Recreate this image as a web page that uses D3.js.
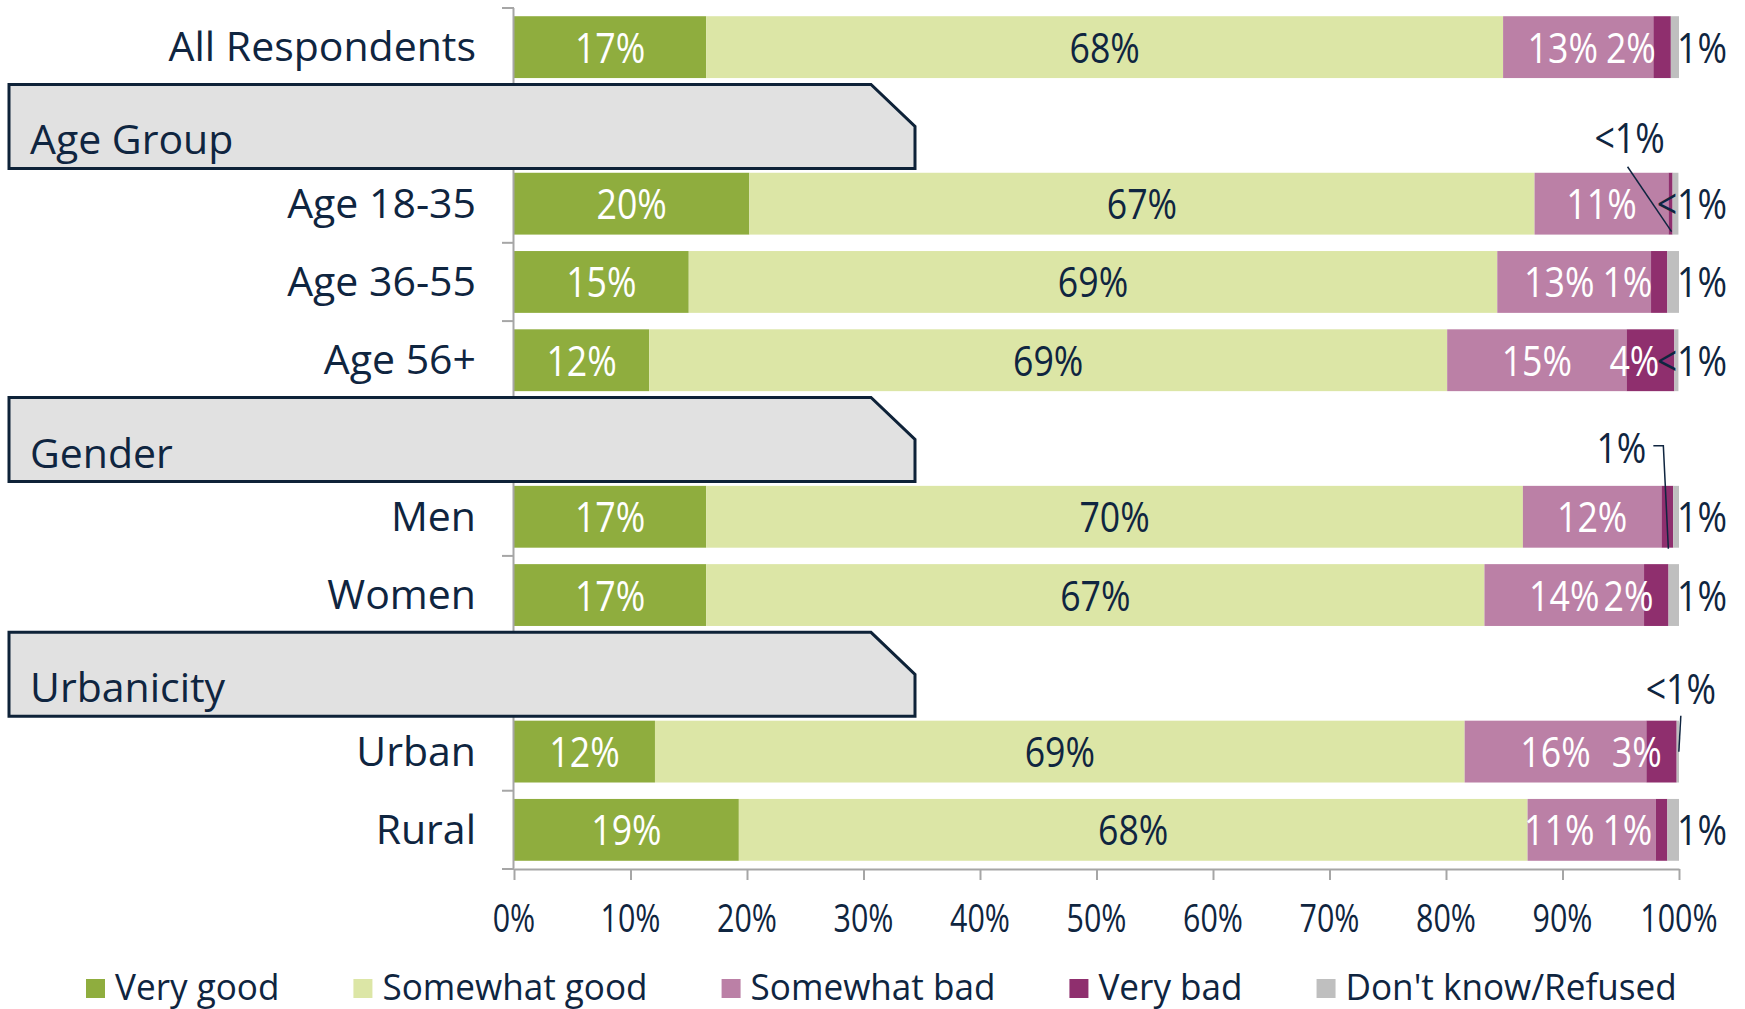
<!DOCTYPE html>
<html><head><meta charset="utf-8">
<script src="https://cdn.jsdelivr.net/npm/d3@7"></script>
<style>
body{margin:0;background:#fff;}
svg{display:block;font-family:'Open Sans',sans-serif;}
</style>
</head><body>
<svg id="c" width="1745" height="1009"></svg>
<script>
// ---------- DATA ----------
const slots = ["All Respondents","Age Group","Age 18-35","Age 36-55","Age 56+","Gender","Men","Women","Urbanicity","Urban","Rural"];
const headers = ["Age Group","Gender","Urbanicity"];
const rows = ["All Respondents","Age 18-35","Age 36-55","Age 56+","Men","Women","Urban","Rural"];
const seriesNames = ["Very good","Somewhat good","Somewhat bad","Very bad","Don't know/Refused"];
const veryGood     = [16.5, 20.2, 15.0, 11.6, 16.5, 16.5, 12.1, 19.3];
const somewhatGood = [68.4, 67.4, 69.4, 68.5, 70.1, 66.8, 69.5, 67.7];
const somewhatBad  = [12.9, 11.5, 13.2, 15.4, 11.9, 13.7, 15.6, 11.0];
const veryBad      = [1.5, 0.35, 1.4, 4.1, 1.0, 2.1, 2.6, 1.0];
const dontKnow     = [0.7, 0.5, 1.0, 0.35, 0.5, 0.9, 0.2, 1.0];
const veryGoodLabels     = ["17%","20%","15%","12%","17%","17%","12%","19%"];
const somewhatGoodLabels = ["68%","67%","69%","69%","70%","67%","69%","68%"];
const somewhatBadLabels  = ["13%","11%","13%","15%","12%","14%","16%","11%"];
const veryBadLabels      = ["2%","<1%","1%","4%","1%","2%","3%","1%"];
const dontKnowLabels     = ["1%","<1%","1%","<1%","1%","1%","<1%","1%"];
const xTicks = [0,10,20,30,40,50,60,70,80,90,100];
const colors = ["#8fad3e","#dce6a6","#bb80a6","#8f2f6e","#bfbfbf"];

// ---------- SETUP ----------
const NAVY = "#0f2540";
const GRID = "#a6a6a6";
const svg = d3.select("#c");
const x = d3.scaleLinear().domain([0,100]).range([514,1679]);
const y = d3.scaleBand().domain(slots).range([8,869]).paddingInner(0.21).paddingOuter(0.105);
const bw = y.bandwidth();
const step = y.step();

const keys = ["vg","sg","sb","vb","dk"];
const labelSets = [veryGoodLabels, somewhatGoodLabels, somewhatBadLabels, veryBadLabels, dontKnowLabels];
const table = rows.map((r,i)=>({row:r, vg:veryGood[i], sg:somewhatGood[i], sb:somewhatBad[i], vb:veryBad[i], dk:dontKnow[i]}));
const stacked = d3.stack().keys(keys)(table);

function sText(g, px, py, str, o){
  return g.append("text")
    .attr("transform", `translate(${px},${py}) scale(${o.sx||1},1)`)
    .attr("text-anchor", o.anchor||"middle")
    .attr("font-size", o.size)
    .attr("fill", o.fill||NAVY)
    .text(str);
}

// ---------- BARS ----------
const gBars = svg.append("g");
stacked.forEach((layer,k)=>{
  gBars.selectAll(null).data(layer).enter().append("rect")
    .attr("x", d=>x(d[0]))
    .attr("y", d=>y(d.data.row))
    .attr("width", d=>Math.max(0, x(d[1])-x(d[0])))
    .attr("height", bw)
    .attr("fill", colors[k]);
});

// ---------- AXES ----------
const gAxis = svg.append("g");
gAxis.append("line").attr("x1",x(0)-0.5).attr("x2",x(0)-0.5).attr("y1",y.range()[0]).attr("y2",y.range()[1])
  .attr("stroke",GRID).attr("stroke-width",2);
d3.range(slots.length+1).forEach(i=>{
  const yy = y.range()[0] + i*step;
  gAxis.append("line").attr("x1",x(0)-12).attr("x2",x(0)).attr("y1",yy).attr("y2",yy)
    .attr("stroke",GRID).attr("stroke-width",2);
});
const xAxis = d3.axisBottom(x).tickValues(xTicks).tickSize(11).tickSizeOuter(0).tickFormat(d=>d+"%");
const gx = svg.append("g").attr("transform",`translate(0,${y.range()[1]})`).call(xAxis);
gx.select(".domain").attr("stroke",GRID).attr("stroke-width",2);
gx.selectAll(".tick line").attr("stroke",GRID).attr("stroke-width",2);
gx.selectAll(".tick text").remove();
xTicks.forEach(t=>{
  sText(svg, x(t), y.range()[1]+63, t+"%", {size:38, sx:0.8});
});

const yAxis = d3.axisLeft(y).tickSize(0).tickPadding(38).tickFormat(d=>headers.includes(d)?"":d);
const gy = svg.append("g").attr("transform",`translate(${x(0)},0)`).call(yAxis);
gy.select(".domain").remove();
gy.selectAll(".tick text").attr("font-size",41).attr("fill",NAVY).attr("font-family","'Open Sans',sans-serif").attr("dy","0.34em");

// ---------- DATA LABELS ----------
const gLab = svg.append("g");
const callouts = [
  {key:"vb", row:"Age 18-35", style:"diag"},
  {key:"vb", row:"Men", style:"elbow"},
  {key:"dk", row:"Urban", style:"short"}
];
const isCallout = (key,row)=>callouts.find(c=>c.key===key && c.row===row);
const LSX = 0.85, LSIZE = 42;
const vbLeft = {};
stacked[3].forEach((d,i)=>{
  const row = d.data.row;
  if (isCallout("vb",row)) return;
  const cy = y(row)+bw/2+15.5;
  const t = sText(gLab, x(d[1])-15, cy, veryBadLabels[i], {size:LSIZE, sx:LSX, anchor:"end", fill:"#fff"});
  vbLeft[row] = x(d[1])-15 - t.node().getComputedTextLength()*LSX;
});
[0,1,2].forEach(k=>{
  stacked[k].forEach((d,i)=>{
    const row = d.data.row;
    const cy = y(row)+bw/2+15.5;
    let cx = (x(d[0])+x(d[1]))/2;
    const t = sText(gLab, cx, cy, labelSets[k][i], {size:LSIZE, sx:LSX, fill: k===1?NAVY:"#fff"});
    if (k===2 && vbLeft[row]!==undefined){
      const half = t.node().getComputedTextLength()*LSX/2;
      if (cx+half > vbLeft[row]-2){
        cx = vbLeft[row]-8-half;
        t.attr("transform",`translate(${cx},${cy}) scale(${LSX},1)`);
      }
    }
  });
});
stacked[4].forEach((d,i)=>{
  const row = d.data.row;
  if (isCallout("dk",row)) return;
  sText(gLab, x(100)+48, y(row)+bw/2+15.5, dontKnowLabels[i], {size:LSIZE, sx:LSX, anchor:"end"});
});
callouts.forEach(c=>{
  const k = keys.indexOf(c.key);
  const i = rows.indexOf(c.row);
  const d = stacked[k][i];
  const mid = x((d[0]+d[1])/2);
  const top = y(c.row), bot = y(c.row)+bw;
  let tx, ty, pts;
  if (c.style==="diag"){
    tx = mid-41; ty = top-20;
    pts = [[mid-43, top-6],[mid+1, bot-3]];
  } else if (c.style==="elbow"){
    tx = mid-46; ty = top-23;
    pts = [[mid-14, top-40],[mid-4, top-40],[mid+1, bot+1]];
  } else {
    tx = mid+3; ty = top-17;
    pts = [[mid+3, top-5],[mid+1, top+31]];
  }
  sText(gLab, tx, ty, labelSets[k][i], {size:LSIZE, sx:LSX});
  gLab.append("path").attr("d", d3.line()(pts)).attr("fill","none").attr("stroke",NAVY).attr("stroke-width",1.5);
});

// ---------- HEADER BOXES ----------
const gHead = svg.append("g");
headers.forEach(h=>{
  const c = y(h)+bw/2+1;
  const t = c-42, b = c+42;
  const L = 9, R = 915, cut = 44;
  gHead.append("path")
    .attr("d", `M${L},${t}L${R-cut},${t}L${R},${t+42}L${R},${b}L${L},${b}Z`)
    .attr("fill","#e1e1e1").attr("stroke","#0e2238").attr("stroke-width",3);
  sText(gHead, 30, b-14, h, {size:41, anchor:"start"});
});

// ---------- LEGEND ----------
const gLeg = svg.append("g");
let lx = 86;
const LEGSX = 0.975;
seriesNames.forEach((s,k)=>{
  gLeg.append("rect").attr("x",lx).attr("y",979).attr("width",19).attr("height",19).attr("fill",colors[k]);
  const t = sText(gLeg, lx+29, 1000, s, {size:36, anchor:"start", sx:LEGSX});
  lx += 29 + t.node().getComputedTextLength()*LEGSX + 74;
});
</script>
</body></html>
